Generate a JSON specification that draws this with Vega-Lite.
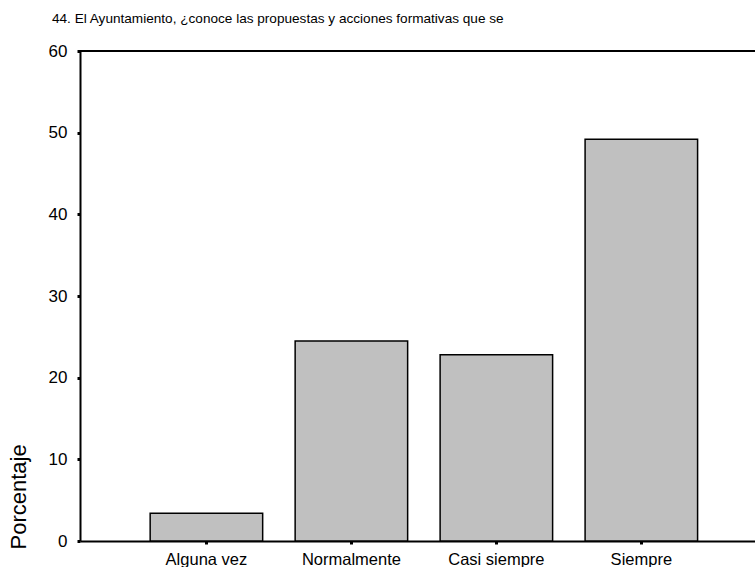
{
  "$schema": "https://vega.github.io/schema/vega-lite/v6.json",
  "width": 675,
  "height": 490,
  "autosize": {"type": "none"},
  "padding": {"left": 80, "top": 51, "right": 0, "bottom": 26},
  "background": "white",
  "config": {
    "view": {"stroke": null},
    "font": "Liberation Sans",
    "axis": {"labelFont": "Liberation Sans", "titleFont": "Liberation Sans", "labelColor": "black", "titleColor": "black", "domainColor": "black", "tickColor": "black", "grid": false}
  },
  "title": {
    "text": "44. El Ayuntamiento, ¿conoce las propuestas y acciones formativas que se",
    "anchor": "start",
    "frame": "group",
    "dx": -28,
    "offset": 16,
    "fontSize": 13.6,
    "fontWeight": "normal",
    "color": "black",
    "font": "Liberation Sans"
  },
  "data": {
    "values": [
      {"categoria": "Alguna vez", "porcentaje": 3.4},
      {"categoria": "Normalmente", "porcentaje": 24.5},
      {"categoria": "Casi siempre", "porcentaje": 22.8},
      {"categoria": "Siempre", "porcentaje": 49.2}
    ]
  },
  "layer": [
    {
      "mark": {"type": "bar", "fill": "#c0c0c0", "stroke": "black", "strokeWidth": 1.5},
      "encoding": {
        "x": {
          "field": "categoria",
          "type": "nominal",
          "sort": ["Alguna vez", "Normalmente", "Casi siempre", "Siempre"],
          "scale": {"paddingInner": 0.224, "paddingOuter": 0.44, "align": 0.55},
          "axis": {
            "title": null,
            "labelAngle": 0,
            "labelFontSize": 16.5,
            "labelPadding": 7,
            "tickSize": 3,
            "tickWidth": 3,
            "domainWidth": 2
          }
        },
        "y": {
          "field": "porcentaje",
          "type": "quantitative",
          "scale": {"domain": [0, 60], "nice": false},
          "axis": {
            "title": "Porcentaje",
            "titleFontSize": 22,
            "titleFontWeight": "normal",
            "titleAnchor": "start",
            "titleAngle": -90,
            "titleAlign": "left",
            "titleBaseline": "alphabetic",
            "titleX": -55,
            "titleY": 498,
            "values": [0, 10, 20, 30, 40, 50, 60],
            "labelFontSize": 17,
            "labelPadding": 10,
            "tickSize": 3,
            "tickWidth": 3,
            "domainWidth": 2
          }
        }
      }
    },
    {
      "mark": {"type": "rule", "color": "black", "strokeWidth": 2},
      "encoding": {
        "y": {"datum": 60, "type": "quantitative"}
      }
    }
  ]
}
